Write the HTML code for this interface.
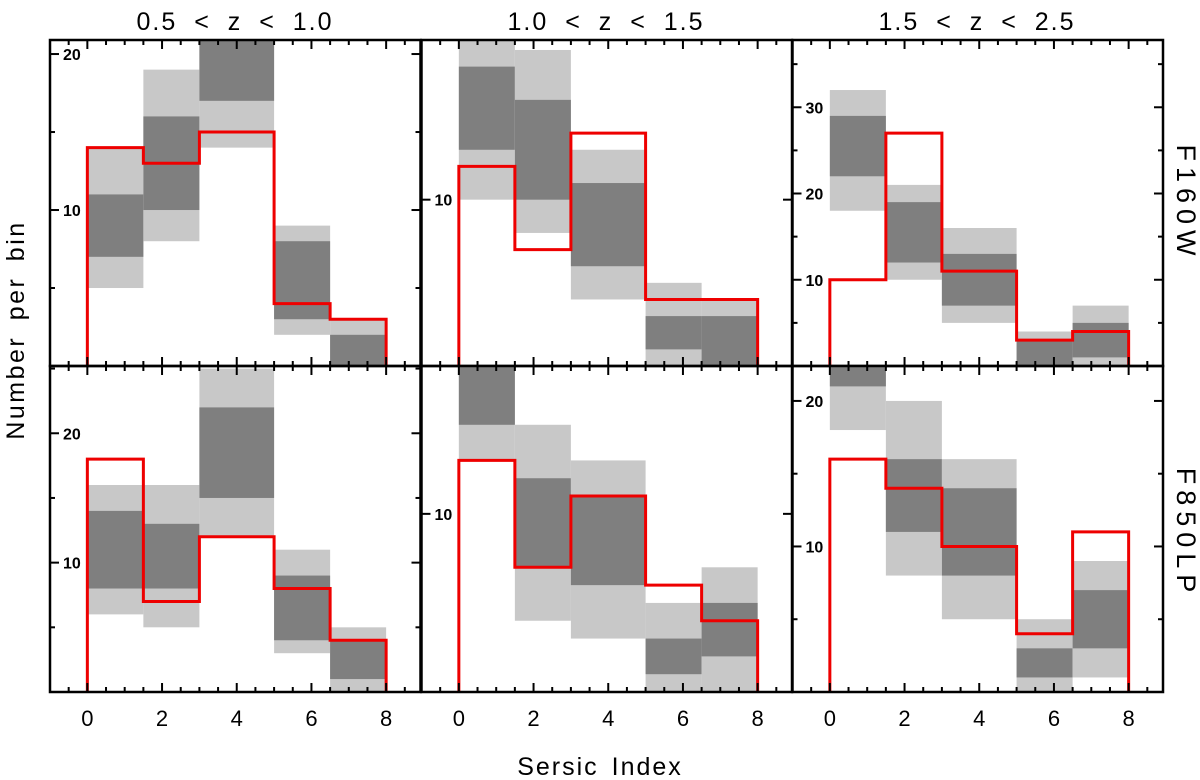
<!DOCTYPE html>
<html><head><meta charset="utf-8"><style>
html,body{margin:0;padding:0;background:#fff;}
svg{display:block;font-family:"Liberation Sans",sans-serif;}
</style></head><body>
<svg id="chart" width="1200" height="780" viewBox="0 0 1200 780" xmlns="http://www.w3.org/2000/svg">
<g id="plots"></g>
<text x="235" y="30" font-size="25" letter-spacing="2" word-spacing="8" text-anchor="middle">0.5 &lt; z &lt; 1.0</text>
<text x="606" y="30" font-size="25" letter-spacing="2" word-spacing="8" text-anchor="middle">1.0 &lt; z &lt; 1.5</text>
<text x="977" y="30" font-size="25" letter-spacing="2" word-spacing="8" text-anchor="middle">1.5 &lt; z &lt; 2.5</text>
<text x="600" y="775" font-size="25" letter-spacing="2" word-spacing="4" text-anchor="middle">Sersic Index</text>
<text transform="translate(24,330) rotate(-90)" font-size="25" letter-spacing="2.5" word-spacing="6" text-anchor="middle">Number per bin</text>
<text transform="translate(1177,203) rotate(90)" font-size="27" letter-spacing="6" text-anchor="middle">F160W</text>
<text transform="translate(1177,533) rotate(90)" font-size="27" letter-spacing="6" text-anchor="middle">F850LP</text>
</svg>
<script>
const binEdges = [0, 1.5, 3, 5, 6.5, 8];
const xTicks = [0, 2, 4, 6, 8];
const tlLightLo = [5, 8, 14, 2, 0];   const tlLightHi = [14, 19, 25, 9, 3];
const tlDarkLo  = [7, 10, 17, 3, 0];  const tlDarkHi  = [11, 16, 25, 8, 2];
const tlRed     = [14, 13, 15, 4, 3];
const tmLightLo = [10, 8, 4, 0, 0];   const tmLightHi = [22, 19, 13, 5, 4];
const tmDarkLo  = [13, 10, 6, 1, 0];  const tmDarkHi  = [18, 16, 11, 3, 3];
const tmRed     = [12, 7, 14, 4, 4];
const trLightLo = [18, 10, 5, 0, 0];  const trLightHi = [32, 21, 16, 4, 7];
const trDarkLo  = [22, 12, 7, 0, 1];  const trDarkHi  = [29, 19, 13, 3, 5];
const trRed     = [10, 27, 11, 3, 4];
const blLightLo = [6, 5, 12, 3, 0];   const blLightHi = [16, 16, 25, 11, 5];
const blDarkLo  = [8, 8, 15, 4, 1];   const blDarkHi  = [14, 13, 22, 9, 4];
const blRed     = [18, 7, 12, 8, 4];
const bmLightLo = [13, 4, 3, 0, 0];   const bmLightHi = [25, 15, 13, 5, 7];
const bmDarkLo  = [15, 7, 6, 1, 2];   const bmDarkHi  = [25, 12, 11, 3, 5];
const bmRed     = [13, 7, 11, 6, 4];
const brLightLo = [18, 8, 5, 0, 1];   const brLightHi = [25, 20, 16, 5, 9];
const brDarkLo  = [21, 11, 8, 1, 3];  const brDarkHi  = [25, 16, 14, 3, 7];
const brRed     = [16, 14, 10, 4, 11];
const tlMajor = [10, 20]; const tlMinor = [5, 15];
const tmMajor = [10];     const tmMinor = [];
const trMajor = [10, 20, 30]; const trMinor = [5, 15, 25, 35];
const blMajor = [10, 20]; const blMinor = [5, 15, 25];
const bmMajor = [10];     const bmMinor = [];
const brMajor = [10, 20]; const brMinor = [5, 15];
const yMaxes = [20.9, 19.6, 37.8, 25.2, 18.3, 22.4];

const NS = "http://www.w3.org/2000/svg";
const root = document.getElementById('plots');
function mk(tag, attrs, parent){const e=document.createElementNS(NS,tag);for(const k in attrs)e.setAttribute(k,attrs[k]);parent.appendChild(e);return e;}

const colLeft = [50, 421.5, 792.5], colW = 370.5;
const rowTop = [40, 366], rowH = 326;
const xMin = -1.0, xMax = 8.92;
const panels = [
 {n:'f160w-z1',c:0,r:0,ll:tlLightLo,lh:tlLightHi,dl:tlDarkLo,dh:tlDarkHi,red:tlRed,maj:tlMajor,min:tlMinor},
 {n:'f160w-z2',c:1,r:0,ll:tmLightLo,lh:tmLightHi,dl:tmDarkLo,dh:tmDarkHi,red:tmRed,maj:tmMajor,min:tmMinor},
 {n:'f160w-z3',c:2,r:0,ll:trLightLo,lh:trLightHi,dl:trDarkLo,dh:trDarkHi,red:trRed,maj:trMajor,min:trMinor},
 {n:'f850lp-z1',c:0,r:1,ll:blLightLo,lh:blLightHi,dl:blDarkLo,dh:blDarkHi,red:blRed,maj:blMajor,min:blMinor},
 {n:'f850lp-z2',c:1,r:1,ll:bmLightLo,lh:bmLightHi,dl:bmDarkLo,dh:bmDarkHi,red:bmRed,maj:bmMajor,min:bmMinor},
 {n:'f850lp-z3',c:2,r:1,ll:brLightLo,lh:brLightHi,dl:brDarkLo,dh:brDarkHi,red:brRed,maj:brMajor,min:brMinor},
];
panels.forEach((p,i)=>{
  const L=colLeft[p.c], T=rowTop[p.r], B=T+rowH, R=L+colW, yMax=yMaxes[i];
  const X=v=>L+(v-xMin)/(xMax-xMin)*colW;
  const Y=v=>B-v/yMax*rowH;
  const g=mk('g',{},root);
  
  
  const cid='clip'+i;
  const cp=mk('clipPath',{id:cid},g); mk('rect',{x:L,y:T,width:colW,height:rowH},cp);
  const bars=mk('g',{'clip-path':'url(#'+cid+')'},g);
  for(let b=0;b<p.red.length;b++){
    const x0=X(binEdges[b]), x1=X(binEdges[b+1]);
    const lr=mk('rect',{x:x0,y:Y(p.lh[b]),width:x1-x0,height:Y(p.ll[b])-Y(p.lh[b]),fill:'#c8c8c8'},bars);
    
    
    const dr=mk('rect',{x:x0,y:Y(p.dh[b]),width:x1-x0,height:Y(p.dl[b])-Y(p.dh[b]),fill:'#7f7f7f'},bars);
    
    
  }
  let d='M'+X(binEdges[0])+','+B;
  for(let b=0;b<p.red.length;b++){ d+=' L'+X(binEdges[b])+','+Y(p.red[b])+' L'+X(binEdges[b+1])+','+Y(p.red[b]); }
  d+=' L'+X(binEdges[binEdges.length-1])+','+B;
  const rp=mk('path',{d:d,fill:'none',stroke:'#ee0000','stroke-width':3,'stroke-linejoin':'miter'},bars);
  
  
  const tk=mk('g',{stroke:'#000','stroke-width':2},g);
  for(let v=-0.5; v<=8.9; v+=0.5){
    const isMaj = xTicks.includes(v); const len=isMaj?9:5;
    mk('line',{x1:X(v),x2:X(v),y1:B,y2:B-len},tk);
    mk('line',{x1:X(v),x2:X(v),y1:T,y2:T+len},tk);
  }
  p.maj.forEach(v=>{mk('line',{x1:L,x2:L+9,y1:Y(v),y2:Y(v)},tk);mk('line',{x1:R,x2:R-9,y1:Y(v),y2:Y(v)},tk);
    const t=mk('text',{x:L+13,y:Y(v)+6,'font-size':16,'font-weight':'bold',fill:'#000',stroke:'none'},g); t.textContent=v;
    
    
  });
  p.min.forEach(v=>{mk('line',{x1:L,x2:L+5,y1:Y(v),y2:Y(v)},tk);mk('line',{x1:R,x2:R-5,y1:Y(v),y2:Y(v)},tk);});
  mk('rect',{x:L,y:T,width:colW,height:rowH,fill:'none',stroke:'#000','stroke-width':2.5},g);
  if(p.r===1){
    xTicks.forEach(v=>{const t=mk('text',{x:X(v),y:726,'font-size':22,'text-anchor':'middle'},g);t.textContent=v;
      
      
    });
  }
});
</script>
</body></html>
